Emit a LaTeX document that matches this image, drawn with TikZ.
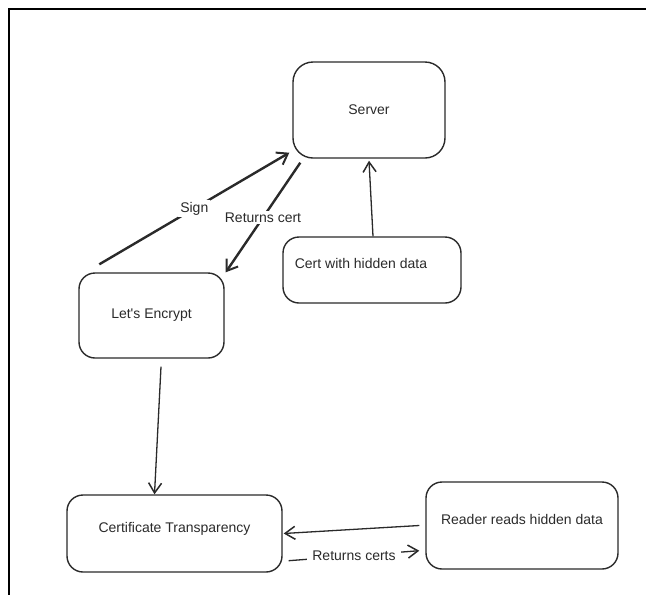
\documentclass[tikz,border=0pt]{standalone}
\usepackage{fontspec}
\setmainfont{Liberation Sans}
\usetikzlibrary{arrows.meta,calc}
\definecolor{ink}{HTML}{2A2A2A}
\tikzset{
  box/.style={draw=ink, line width=1.4pt, rounded corners=16pt, inner sep=0pt},
  txt/.style={text=ink, font=\fontsize{14}{16}\selectfont, inner sep=1pt},
  lbl/.style={text=ink, font=\fontsize{14}{16}\selectfont, fill=white, inner sep=2pt},
  conn/.style={draw=ink, line width=1.3pt, -{Straight Barb[length=10pt,width=13pt,line width=1.5pt]}},
  thickconn/.style={draw=ink, line width=2.4pt, -{Straight Barb[length=10pt,width=14pt,line width=2pt]}},
}
\begin{document}
\begin{tikzpicture}[x=1pt,y=-1pt]
\useasboundingbox (0,0) rectangle (646,595);
% frame
\draw[line width=2pt, black] (9,595) -- (9,9) -- (646,9);
% boxes
\node[box, rounded corners=20pt, minimum width=152pt, minimum height=96pt, txt] (server) at (369,110) {Server};
\node[box, minimum width=178pt, minimum height=66pt] (cert) at (372,270) {};
\node[txt] (certtext) at ($(cert.center)+(-11,-7)$) {Cert with hidden data};
\node[box, minimum width=145pt, minimum height=85pt, txt] (le) at (151.5,315.5) {Let\textquotesingle s Encrypt};
\node[box, minimum width=215pt, minimum height=77pt] (ct) at (174.5,533.5) {};
\node[txt] (cttext) at ($(ct.center)+(0,-5)$) {Certificate Transparency};
\node[box, minimum width=192pt, minimum height=87pt] (reader) at (522,525.5) {};
\node[txt] (readertext) at ($(reader.center)+(0,-6)$) {Reader reads hidden data};
% connectors
\draw[thickconn] ($(le.north west)+(21,-8)$) -- node[lbl] (sign) {Sign} ($(server.south west)+(-3,-6)$);
\draw[thickconn] ($(server.south west)+(8,4)$) -- node[lbl] (retcert) {Returns cert} ($(le.north east)+(1,0)$);
\draw[conn] ($(cert.north)+(1,0)$) -- ($(server.south)+(0,2)$);
\draw[conn] ($(le.south)+(9.5,8)$) -- ($(ct.north)+(-20,0)$);
\draw[conn] ($(reader.west)+(-6,0)$) -- ($(ct.east)+(1,0)$);
\draw[conn] ($(ct.south east)+(6,-12)$) -- node[lbl, inner xsep=5pt] (retcerts) {Returns certs} ($(reader.south west)+(-6,-19)$);
\end{tikzpicture}
\end{document}
